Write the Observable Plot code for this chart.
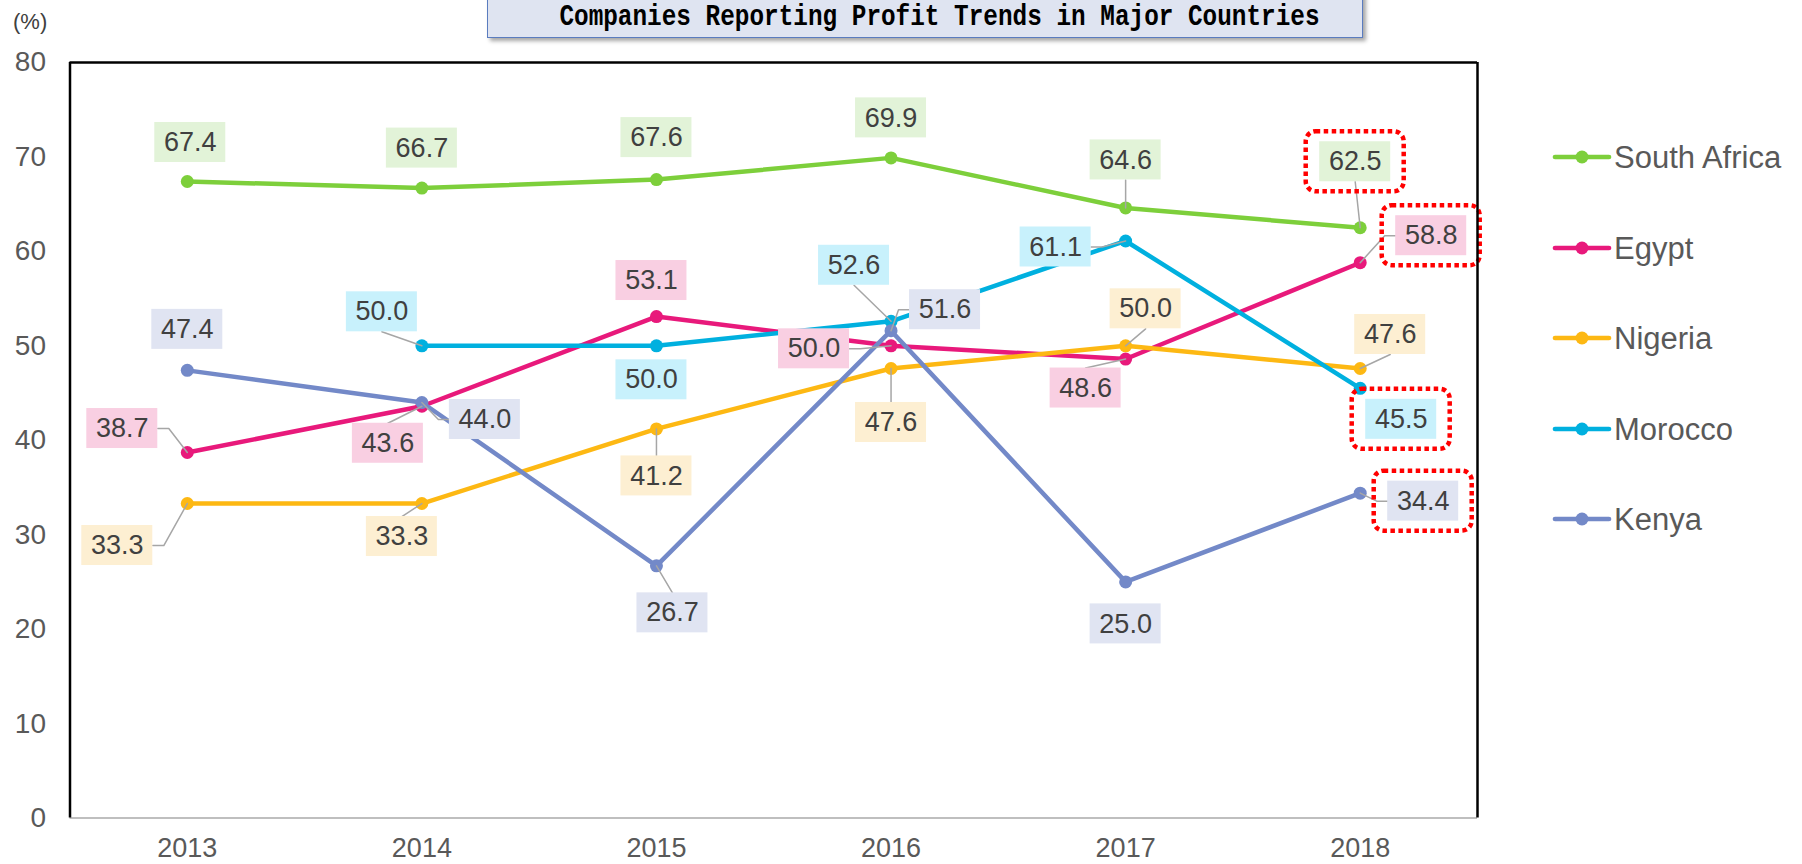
<!DOCTYPE html>
<html>
<head>
<meta charset="utf-8">
<script src="https://cdn.jsdelivr.net/npm/d3@7"></script>
<script src="https://cdn.jsdelivr.net/npm/@observablehq/plot@0.6"></script>
<style>
  html, body { margin: 0; padding: 0; background: #fff; }
  #wrap { position: relative; width: 1802px; height: 864px; overflow: hidden; font-family: "Liberation Sans", Arial, sans-serif; }
  #chart { position: absolute; left: 0; top: 0; }
  #titleBox { position: absolute; left: 487px; top: -12px; width: 874px; height: 48px; background: #dfe4f1; border: 1.5px solid #5a7cbf; box-shadow: 3px 3px 4px rgba(0,0,0,0.35); }
  #titleText { position: absolute; left: 487px; width: 877px; top: 3px; line-height: 29px; text-align: center; font-family: "Liberation Mono", "DejaVu Sans Mono", monospace; font-weight: bold; font-size: 29px; color: #000; white-space: nowrap; }
  #titleText span { display: inline-block; transform: scaleX(0.84); transform-origin: center; }
  #unit { position: absolute; left: 13px; top: 11px; font-size: 22px; line-height: 22px; color: #404040; }
  .leg { position: absolute; }
  .legText { position: absolute; font-size: 31px; line-height: 31px; color: #595959; white-space: nowrap; }
</style>
</head>
<body>
<div id="wrap">
  <div id="chart"></div>
  <div id="titleBox"></div>
  <div id="titleText"><span id="titleSpan"></span></div>
  <div id="unit"></div>
  <div id="legend"></div>
</div>
<script>
// ---------- data ----------
const years = [2013, 2014, 2015, 2016, 2017, 2018];
const countries = ["South Africa", "Egypt", "Nigeria", "Morocco", "Kenya"];
const southAfrica = [67.4, 66.7, 67.6, 69.9, 64.6, 62.5];
const egypt       = [38.7, 43.6, 53.1, 50.0, 48.6, 58.8];
const nigeria     = [33.3, 33.3, 41.2, 47.6, 50.0, 47.6];
const morocco     = [null, 50.0, 50.0, 52.6, 61.1, 45.5];
const kenya       = [47.4, 44.0, 26.7, 51.6, 25.0, 34.4];
const yTicks = [0, 10, 20, 30, 40, 50, 60, 70, 80];
const titleText = "Companies Reporting Profit Trends in Major Countries";
const unitText = "(%)";
const highlightYear = 2018;
const highlighted = ["South Africa", "Egypt", "Morocco", "Kenya"];

// ---------- styles / layout ----------
const lineColors = ["#7dcf3b", "#e8197b", "#fdb813", "#00b0df", "#7389c8"];
const boxColors  = ["#e2f3d8", "#f9cfe2", "#fdefd2", "#c8f1fc", "#e0e4f2"];
// label box centre offsets from the data point, in pixels [dx, dy]
const labelOffsets = {
  "South Africa": [[3, -39], [0, -40], [0, -42], [0, -40], [0, -48], [-5, -66]],
  "Egypt":        [[-65, -24], [-34, 37], [-5, -36], [-77, 3], [-40, 29], [71, -27]],
  "Nigeria":      [[-70, 42], [-20, 33], [0, 47], [0, 54], [20, -37], [30, -34]],
  "Morocco":      [null, [-40, -34], [-5, 34], [-37, -56], [-70, 6], [41, 31]],
  "Kenya":        [[0, -41], [63, 17], [16, 47], [54, -21], [0, 42], [63, 8]]
};
const leaderKeys = [
  "South Africa|2017", "South Africa|2018",
  "Egypt|2013", "Egypt|2014", "Egypt|2016", "Egypt|2017", "Egypt|2018",
  "Nigeria|2013", "Nigeria|2014", "Nigeria|2015", "Nigeria|2016", "Nigeria|2017", "Nigeria|2018",
  "Morocco|2014", "Morocco|2016", "Morocco|2017",
  "Kenya|2014", "Kenya|2015", "Kenya|2016", "Kenya|2018"
];

const FONT = '"Liberation Sans", Arial, sans-serif';
const W = 1802, H = 864;
const mL = 69.5, mR = W - 1477, mT = 62, mB = H - 817.5;
const pxX = (W - mL - mR) / 6;   // px per year
const pxY = (H - mT - mB) / 80;  // px per unit
const HW = 35.5, HH = 20;        // label box half size
const RPX = 13.5, RPY = 10;      // red highlight padding

const series = [southAfrica, egypt, nigeria, morocco, kenya];

// ---------- derived tables ----------
const rows = [];
countries.forEach((c, i) => years.forEach((yr, j) => {
  const v = series[i][j];
  if (v != null) rows.push({country: c, year: yr, value: v, key: c + "|" + yr, off: labelOffsets[c][j]});
}));

const labels = rows.map(r => {
  const [dx, dy] = r.off;
  const cx = r.year + dx / pxX, cy = r.value - dy / pxY;
  return {
    ...r, cx, cy,
    bx1: cx - HW / pxX, bx2: cx + HW / pxX, by1: cy - HH / pxY, by2: cy + HH / pxY,
    rx1: cx - (HW + RPX) / pxX, rx2: cx + (HW + RPX) / pxX, ry1: cy - (HH + RPY) / pxY, ry2: cy + (HH + RPY) / pxY
  };
});

const leaderPts = [];
labels.filter(l => leaderKeys.includes(l.key)).forEach(l => {
  const [dx, dy] = l.off;
  const gx = Math.max(0, Math.abs(dx) - HW), gy = Math.max(0, Math.abs(dy) - HH);
  let pts;
  if (gx > gy) {
    const s = Math.sign(dx);
    const sx = dx - s * HW;
    const ex = Math.abs(sx) > 14 ? sx - s * 11 : sx;
    pts = [[sx, dy], [ex, dy], [0, 0]];
  } else {
    const sy = dy - Math.sign(dy) * HH;
    pts = [[dx, sy], [0, 0]];
  }
  pts.forEach(([px, py]) => leaderPts.push({id: l.key, x: l.year + px / pxX, y: l.value - py / pxY}));
});

// ---------- marks ----------
const marks = [
  Plot.ruleY([0], {stroke: "#bfbfbf", strokeWidth: 2}),
  Plot.axisY({ticks: yTicks, tickSize: 0, tickPadding: 24, fontSize: 28, label: null, fill: "#595959"}),
  Plot.axisX({ticks: years, tickFormat: d => String(d), tickSize: 0, tickPadding: 20, fontSize: 27, label: null, fill: "#595959"})
];
countries.forEach((c, i) => {
  const d = rows.filter(r => r.country === c);
  marks.push(Plot.line(d, {x: "year", y: "value", stroke: lineColors[i], strokeWidth: 4.5}));
  marks.push(Plot.dot(d, {x: "year", y: "value", fill: lineColors[i], r: 6.5}));
});
marks.push(Plot.line(leaderPts, {x: "x", y: "y", z: "id", stroke: "#a6a6a6", strokeWidth: 1.5}));
countries.forEach((c, i) => {
  marks.push(Plot.rect(labels.filter(l => l.country === c), {x1: "bx1", x2: "bx2", y1: "by1", y2: "by2", fill: boxColors[i]}));
});
marks.push(Plot.text(labels, {x: "cx", y: "cy", text: d => d.value.toFixed(1), fontSize: 27, fill: "#404040", lineAnchor: "middle"}));
marks.push(Plot.rect(labels.filter(l => l.year === highlightYear && highlighted.includes(l.country)),
  {x1: "rx1", x2: "rx2", y1: "ry1", y2: "ry2", fill: "none", stroke: "#ff0000", strokeWidth: 4.5, strokeDasharray: "4.5,3.5", rx: 10}));
marks.push(Plot.ruleY([80], {stroke: "#000", strokeWidth: 2.5}));
marks.push(Plot.ruleX([2012.5, 2018.5], {stroke: "#000", strokeWidth: 2.5}));

const chart = Plot.plot({
  width: W, height: H,
  marginLeft: mL, marginRight: mR, marginTop: mT, marginBottom: mB,
  style: {fontFamily: FONT, color: "#595959", background: "transparent", overflow: "visible"},
  x: {domain: [2012.5, 2018.5]},
  y: {domain: [0, 80]},
  marks
});
document.getElementById("chart").appendChild(chart);

// ---------- title, unit, legend ----------
document.getElementById("titleSpan").textContent = titleText;
document.getElementById("unit").textContent = unitText;
const legend = document.getElementById("legend");
const legTop = 157.3, legGap = 90.5;
countries.forEach((c, i) => {
  const y = legTop + i * legGap;
  const item = document.createElement("div");
  item.className = "leg";
  item.style.left = "1552px";
  item.style.top = (y - 10) + "px";
  item.innerHTML = `<svg width="60" height="20"><line x1="3" x2="57" y1="10" y2="10" stroke="${lineColors[i]}" stroke-width="4.7" stroke-linecap="round"/><circle cx="30" cy="10" r="6.5" fill="${lineColors[i]}"/></svg>`;
  legend.appendChild(item);
  const t = document.createElement("div");
  t.className = "legText";
  t.style.left = "1614px";
  t.style.top = (y - 15.2) + "px";
  t.textContent = c;
  legend.appendChild(t);
});
</script>
</body>
</html>
